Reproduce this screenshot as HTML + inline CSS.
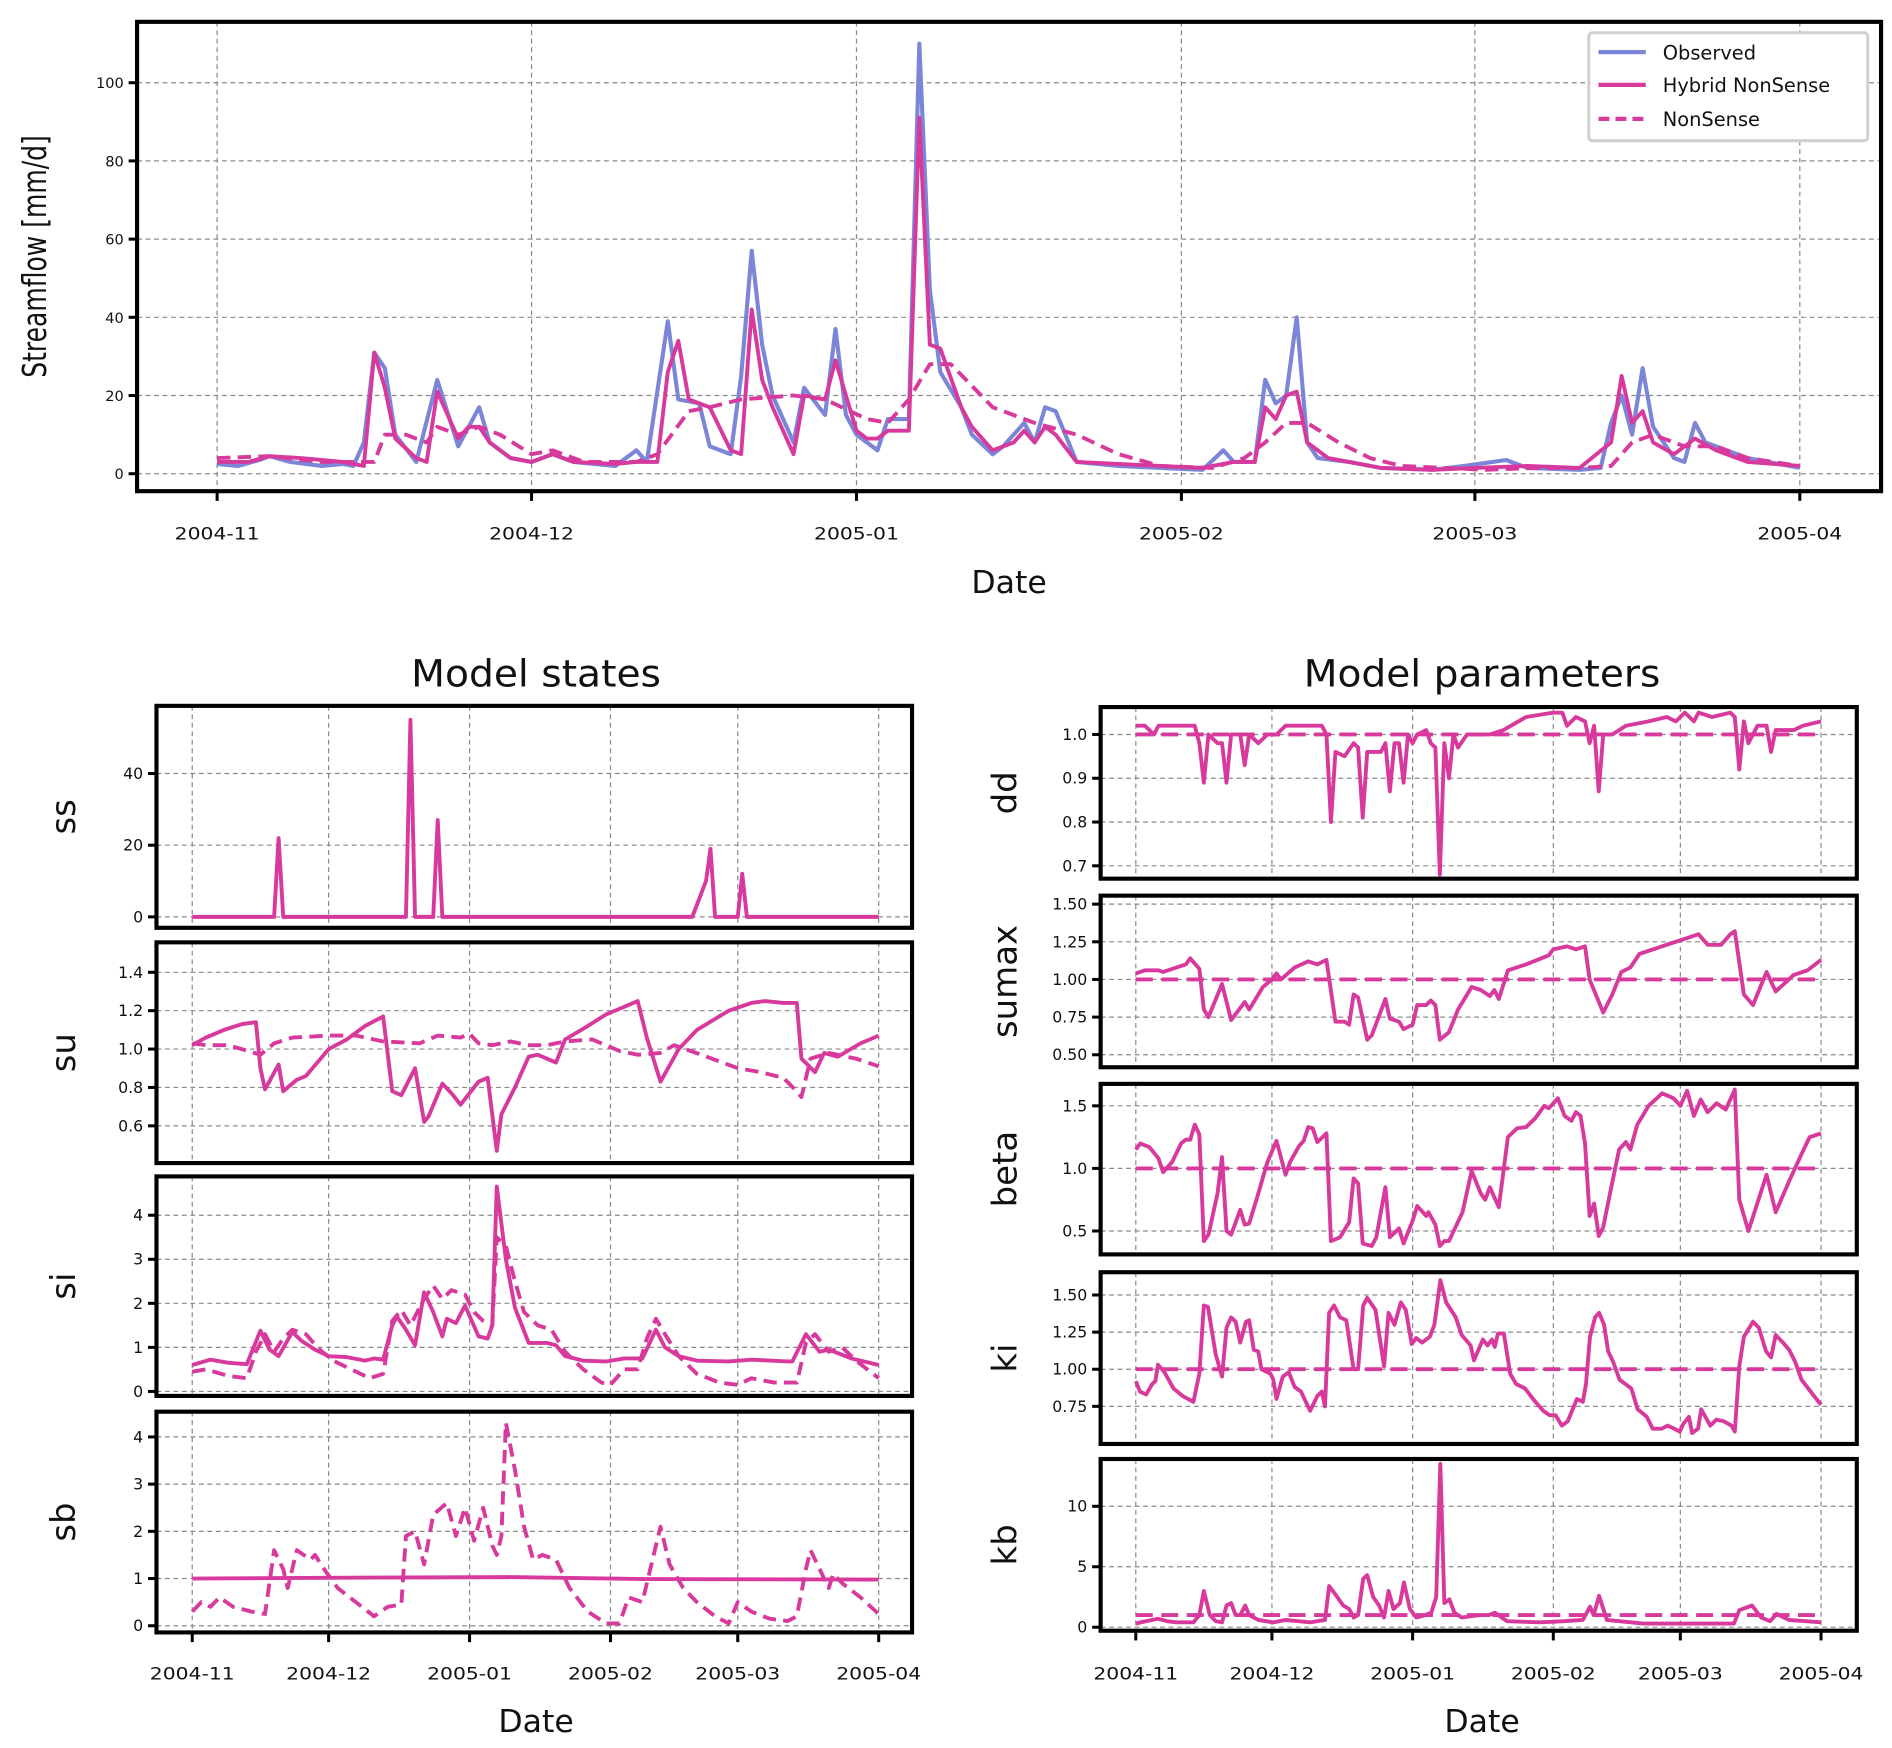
<!DOCTYPE html>
<html><head><meta charset="utf-8"><style>
html,body{margin:0;padding:0;background:#fff;}
svg{display:block;font-family:"DejaVu Sans","Liberation Sans",sans-serif;}
</style></head><body>
<svg id="fig" xmlns="http://www.w3.org/2000/svg" width="1892" height="1748" viewBox="0 0 1560 1441.3"></svg>
<script>
// ---------- DATA (day offset from 2004-11-01, value) ----------
const xTickLabels = ["2004-11","2004-12","2005-01","2005-02","2005-03","2005-04"];
const xTickDays = [0,30,61,92,120,151];
const obsSeries = [[0,2.5],[2,2],[4,3.5],[5,4.5],[7,3],[10,2],[12,2.5],[13,2],[14,8],[15,31],[16,27],[17,10],[19,3],[21,24],[23,7],[25,17],[26,8],[28,4],[30,3],[32,5],[34,3],[38,2],[40,6],[41,3],[43,39],[44,19],[46,18],[47,7],[49,5],[50,25],[51,57],[52,33],[53,20],[55,8],[56,22],[58,15],[59,37],[60,15],[61,10],[63,6],[64,14],[66,14],[67,110],[68,47],[69,26],[71,17],[72,10],[74,5],[75,7],[77,13],[78,8],[79,17],[80,16],[82,3],[86,2],[90,1.5],[94,1],[96,6],[97,3],[99,3],[100,24],[101,18],[102,20],[103,40],[104,8],[105,4],[108,3],[111,1.5],[116,1],[119,2],[123,3.5],[125,1.5],[130,1],[132,1.5],[133,13],[134,20],[135,10],[136,27],[137,12],[139,4],[140,3],[141,13],[142,8],[146,4],[151,1.5]];
const hybSeries = [[0,3],[3,3],[5,4.5],[8,4],[12,3],[14,2],[15,31],[16,22],[17,9],[19,4],[20,3],[21,21],[23,9],[24,12],[25,12],[26,8],[28,4],[30,3],[32,5],[34,3],[38,2.5],[40,3],[42,3],[43,26],[44,34],[45,19],[47,17],[49,6],[50,5],[51,42],[52,24],[53,17],[55,5],[56,20],[58,19],[59,29],[60,20],[61,11],[62,9],[63,9],[64,11],[66,11],[67,91],[68,33],[69,32],[71,17],[72,12],[74,6],[76,8],[77,11],[78,8],[79,12],[80,10],[82,3],[86,2.5],[90,2],[94,1.5],[97,3],[99,3],[100,17],[101,14],[102,20],[103,21],[104,8],[106,4],[108,3],[111,1.5],[116,1],[120,1.5],[125,2],[130,1.5],[133,8],[134,25],[135,13],[136,16],[137,8],[139,5],[141,9],[143,6],[146,3],[151,2]];
const nsSeries = [[0,4],[5,4.5],[10,3],[15,3],[16,10],[18,10],[20,8],[21,12],[23,10],[25,12],[27,10],[30,5],[32,6],[35,3],[40,3],[42,5],[45,16],[47,17],[50,19],[55,20],[58,19],[62,14],[64,13],[66,19],[68,28],[70,28],[74,17],[78,13],[82,10],[86,5],[90,2],[95,1.5],[98,4],[100,8],[102,13],[104,13],[107,8],[110,4],[113,2],[117,1.5],[121,1],[126,1.5],[130,1.5],[133,2],[135,8],[137,10],[140,7],[143,7],[146,4],[151,2]];

const ssHybrid = [[0,0],[18,0],[19,22],[20,0],[47,0],[48,55],[49,0],[53,0],[54,27],[55,0],[110,0],[113,10],[114,19],[115,0],[120,0],[121,12],[122,0],[151,0]];
const suHybrid = [[0,1.02],[3,1.06],[7,1.1],[11,1.13],[14,1.14],[15,0.9],[16,0.79],[19,0.92],[20,0.78],[23,0.84],[25,0.86],[30,1.0],[34,1.05],[38,1.12],[42,1.17],[44,0.78],[46,0.76],[49,0.9],[51,0.62],[52,0.65],[55,0.82],[57,0.77],[59,0.71],[63,0.83],[65,0.85],[67,0.47],[68,0.66],[71,0.8],[74,0.96],[76,0.97],[80,0.93],[82,1.05],[87,1.12],[91,1.18],[95,1.22],[98,1.25],[100,1.06],[103,0.83],[107,1.0],[111,1.1],[118,1.2],[123,1.24],[126,1.25],[130,1.24],[133,1.24],[134,0.95],[137,0.88],[139,0.98],[142,0.96],[147,1.03],[151,1.07]];
const suNS = [[0,1.03],[3,1.02],[8,1.02],[15,0.97],[18,1.03],[22,1.06],[30,1.07],[36,1.07],[42,1.04],[50,1.03],[54,1.07],[59,1.06],[61,1.08],[63,1.03],[66,1.02],[70,1.04],[74,1.02],[78,1.02],[82,1.04],[88,1.05],[94,0.99],[98,0.97],[103,0.98],[106,1.02],[112,0.97],[120,0.9],[125,0.88],[130,0.85],[133,0.78],[134,0.75],[136,0.95],[140,0.98],[146,0.95],[151,0.91]];
const siHybrid = [[0,0.6],[4,0.72],[8,0.65],[12,0.62],[15,1.38],[17,0.95],[19,0.8],[22,1.35],[24,1.15],[27,0.95],[30,0.8],[34,0.78],[38,0.7],[40,0.75],[42,0.72],[44,1.5],[45,1.7],[47,1.4],[49,1.05],[51,2.25],[53,1.8],[55,1.25],[56,1.65],[58,1.55],[60,1.95],[63,1.25],[65,1.2],[66,1.5],[67,4.65],[69,3.0],[71,1.9],[74,1.1],[78,1.1],[80,1.05],[82,0.8],[86,0.7],[91,0.68],[95,0.75],[99,0.75],[102,1.4],[104,1.0],[107,0.8],[111,0.7],[118,0.68],[123,0.72],[131,0.68],[132,0.68],[135,1.3],[138,0.9],[140,0.95],[145,0.75],[151,0.6]];
const siNS = [[0,0.45],[3,0.5],[8,0.35],[12,0.3],[14,0.9],[16,1.3],[18,0.9],[20,1.2],[22,1.4],[25,1.3],[28,0.95],[31,0.7],[35,0.5],[39,0.3],[42,0.4],[44,1.6],[46,1.85],[48,1.5],[51,2.1],[53,2.4],[55,2.1],[57,2.3],[60,2.2],[62,1.8],[64,1.6],[66,1.5],[67,3.5],[69,3.3],[71,2.5],[73,1.8],[76,1.5],[79,1.4],[82,0.9],[86,0.5],[90,0.2],[92,0.15],[95,0.5],[98,0.5],[100,1.2],[102,1.65],[104,1.3],[107,0.8],[111,0.4],[116,0.2],[120,0.15],[123,0.3],[128,0.2],[133,0.2],[135,1.1],[137,1.3],[140,0.9],[143,1.0],[146,0.7],[151,0.3]];
const sbHybrid = [[0,1.0],[40,1.02],[70,1.03],[100,0.99],[151,0.98]];
const sbNS = [[0,0.3],[2,0.5],[4,0.4],[6,0.6],[9,0.4],[13,0.3],[16,0.25],[18,1.6],[20,1.2],[21,0.8],[23,1.6],[26,1.4],[27,1.5],[29,1.2],[32,0.8],[36,0.5],[40,0.2],[43,0.4],[46,0.45],[47,1.9],[49,2.0],[51,1.3],[53,2.35],[56,2.6],[58,1.9],[60,2.5],[62,1.8],[64,2.5],[66,1.7],[67,1.5],[68,1.9],[69,4.3],[71,3.3],[73,2.1],[75,1.4],[77,1.5],[80,1.4],[83,0.8],[87,0.3],[91,0.05],[94,0.05],[96,0.6],[99,0.5],[101,1.3],[103,2.1],[105,1.3],[108,0.8],[111,0.5],[115,0.2],[118,0.05],[120,0.5],[123,0.3],[127,0.15],[131,0.1],[133,0.2],[135,1.2],[136,1.6],[138,1.2],[140,0.8],[141,1.1],[143,0.9],[147,0.6],[151,0.25]];

const ddHybrid = [[0,1.02],[2,1.02],[4,1.0],[5,1.02],[7,1.02],[12,1.02],[13,1.02],[14,0.98],[15,0.89],[16,1.0],[18,0.98],[19,0.98],[20,0.89],[21,1.0],[23,1.0],[24,0.93],[25,1.0],[27,0.98],[29,1.0],[31,1.0],[33,1.02],[38,1.02],[41,1.02],[42,1.0],[43,0.8],[44,0.96],[46,0.95],[48,0.98],[49,0.97],[50,0.81],[51,0.96],[54,0.96],[55,0.98],[56,0.87],[57,0.98],[58,0.98],[59,0.89],[60,1.0],[61,0.98],[62,1.0],[64,1.01],[65,0.98],[66,0.97],[67,0.68],[68,0.98],[69,0.9],[70,1.0],[71,0.97],[73,1.0],[76,1.0],[78,1.0],[81,1.01],[86,1.04],[92,1.05],[94,1.05],[95,1.02],[97,1.04],[99,1.03],[100,0.98],[101,1.02],[102,0.87],[103,1.0],[105,1.0],[108,1.02],[113,1.03],[117,1.04],[119,1.03],[121,1.05],[123,1.03],[124,1.05],[127,1.04],[131,1.05],[132,1.04],[133,0.92],[134,1.03],[135,0.98],[137,1.02],[139,1.02],[140,0.96],[141,1.01],[145,1.01],[147,1.02],[151,1.03]];
const ddNS = [[0,1.0],[151,1.0]];
const sumaxHybrid = [[0,1.04],[2,1.06],[5,1.06],[6,1.05],[9,1.08],[11,1.1],[12,1.14],[14,1.07],[15,0.8],[16,0.75],[19,0.97],[21,0.73],[24,0.85],[25,0.8],[28,0.95],[30,1.0],[31,1.04],[32,1.0],[35,1.08],[38,1.12],[40,1.1],[42,1.13],[44,0.72],[46,0.72],[47,0.7],[48,0.9],[49,0.88],[51,0.6],[52,0.63],[55,0.87],[56,0.74],[58,0.72],[59,0.67],[61,0.7],[62,0.83],[64,0.83],[65,0.86],[66,0.83],[67,0.6],[69,0.65],[71,0.8],[74,0.95],[76,0.93],[78,0.89],[79,0.93],[80,0.87],[82,1.06],[86,1.1],[91,1.16],[92,1.2],[95,1.22],[97,1.2],[99,1.22],[100,1.0],[103,0.78],[105,0.9],[107,1.05],[109,1.08],[111,1.17],[115,1.21],[117,1.23],[121,1.27],[124,1.3],[126,1.23],[129,1.23],[131,1.3],[132,1.32],[134,0.9],[136,0.83],[139,1.05],[141,0.92],[145,1.03],[148,1.06],[151,1.13]];
const sumaxNS = [[0,1.0],[151,1.0]];
const betaHybrid = [[0,1.15],[1,1.2],[3,1.17],[5,1.08],[6,0.97],[8,1.05],[10,1.2],[11,1.23],[12,1.23],[13,1.35],[14,1.27],[15,0.42],[16,0.47],[18,0.8],[19,1.09],[20,0.5],[21,0.47],[23,0.67],[24,0.55],[25,0.56],[27,0.8],[29,1.05],[31,1.22],[33,0.95],[34,1.05],[36,1.18],[37,1.22],[38,1.33],[39,1.32],[40,1.21],[42,1.28],[43,0.42],[45,0.45],[47,0.57],[48,0.92],[49,0.88],[50,0.4],[52,0.38],[53,0.45],[55,0.85],[56,0.45],[58,0.52],[59,0.4],[61,0.58],[62,0.7],[64,0.62],[64.5,0.65],[66,0.55],[67,0.38],[68,0.42],[69,0.42],[72,0.65],[74,0.98],[76,0.8],[77,0.75],[78,0.85],[80,0.69],[82,1.25],[84,1.32],[86,1.33],[88,1.4],[90,1.5],[91,1.48],[93,1.56],[94.5,1.42],[96,1.38],[97,1.45],[98,1.42],[99,1.2],[100,0.62],[101,0.72],[102,0.46],[103,0.53],[104.5,0.8],[106.5,1.15],[108,1.21],[109,1.15],[110.5,1.35],[113,1.5],[116,1.6],[118.5,1.56],[120,1.5],[121.5,1.62],[123,1.42],[124.5,1.55],[126,1.45],[128,1.52],[130,1.47],[132,1.63],[133,0.75],[135,0.5],[139,0.95],[141,0.65],[144,0.9],[146.5,1.1],[148.5,1.25],[151,1.28]];
const betaNS = [[0,1.0],[151,1.0]];
const kiHybrid = [[0,0.92],[0.9,0.85],[2.3,0.83],[3.6,0.9],[4.3,0.92],[4.9,1.03],[6.3,0.98],[8.3,0.87],[10.3,0.82],[12.7,0.78],[14,0.97],[15,1.43],[15.9,1.42],[17.6,1.1],[19,0.95],[20,1.28],[21,1.35],[22,1.32],[23,1.18],[24.3,1.32],[25,1.33],[26,1.13],[27,1.12],[27.7,1.0],[29.7,0.97],[30.3,0.93],[31,0.8],[32.4,0.95],[33.7,0.98],[35,0.88],[36.4,0.85],[38.4,0.72],[40,0.82],[41,0.85],[41.7,0.75],[42.6,1.38],[43.7,1.43],[45,1.35],[46.4,1.33],[47,1.2],[48,1.0],[49,1.0],[50.1,1.43],[51,1.48],[52.8,1.4],[54.7,1.02],[55.7,1.38],[57,1.3],[58.4,1.45],[59.5,1.4],[60.8,1.17],[61.8,1.21],[63.1,1.18],[64.8,1.22],[65.8,1.3],[67.1,1.6],[68.4,1.45],[70.5,1.35],[71.8,1.23],[73.8,1.16],[74.5,1.06],[76.5,1.2],[77.5,1.16],[78.5,1.2],[79.1,1.15],[79.8,1.24],[81.1,1.24],[82.5,0.97],[83.8,0.9],[85.8,0.87],[87.8,0.79],[89.8,0.72],[91.2,0.69],[92.5,0.69],[93.9,0.62],[95.2,0.65],[97.2,0.8],[98.5,0.78],[99.2,0.9],[100.1,1.22],[101.2,1.35],[102.1,1.38],[103.2,1.3],[104.1,1.12],[105.2,1.05],[106.6,0.93],[107.9,0.9],[109.2,0.87],[110.6,0.73],[112.6,0.68],[113.9,0.6],[115.9,0.6],[117.2,0.62],[118.6,0.6],[119.9,0.58],[120.6,0.63],[121.9,0.68],[122.6,0.57],[123.9,0.6],[124.6,0.73],[126.6,0.62],[127.9,0.66],[129.5,0.65],[131.3,0.62],[132,0.58],[133,1.02],[134,1.22],[136,1.32],[137.3,1.28],[138.9,1.12],[140,1.08],[141,1.23],[142.6,1.18],[144,1.13],[145.3,1.05],[146.7,0.93],[148.7,0.85],[151,0.76]];
const kiNS = [[0,1.0],[151,1.0]];
const kbHybrid = [[0,0.3],[2.3,0.5],[4.9,0.7],[6.9,0.5],[8.9,0.4],[12.7,0.4],[14,1.0],[15,3.0],[16.3,1.0],[17.6,0.5],[19,0.4],[20,1.8],[21,2.0],[22,1.0],[23,1.0],[24.1,1.8],[25,1.0],[27,0.6],[30.3,0.4],[33,0.6],[38.4,0.4],[41.7,0.6],[42.6,3.4],[44.4,2.5],[45.7,1.8],[47,1.5],[48,0.8],[49,1.0],[50.1,4.0],[51,4.3],[52.3,2.5],[53.6,1.8],[54.7,0.8],[55.7,3.0],[56.8,1.5],[58.2,2.0],[59.1,3.7],[60.4,1.5],[61.8,0.8],[63.8,1.0],[65.1,1.2],[66.2,2.5],[67.1,13.5],[68,2.0],[69.1,2.3],[70.2,1.2],[71.8,0.8],[75.8,1.0],[77.8,1.0],[79.1,1.2],[81.8,0.5],[89.1,0.4],[94.4,0.5],[98.5,0.6],[100.1,1.7],[100.9,1.0],[102.1,2.6],[103.8,0.6],[111.8,0.3],[125.1,0.3],[131.8,0.3],[133,1.4],[135.8,1.8],[137.8,0.8],[139.8,0.5],[141.2,1.1],[143.9,0.6],[151,0.4]];
const kbNS = [[0,1.0],[151,1.0]];

// ---------- RENDER ----------
const NS = "http://www.w3.org/2000/svg";
const svg = document.getElementById('fig');
const PINK = "#d8399c", BLUE = "#7c86d8", GRID = "#8a8a8a";
function mk(tag, attrs, parent){ const e=document.createElementNS(NS,tag); for(const k in attrs) e.setAttribute(k,attrs[k]); (parent||svg).appendChild(e); return e; }
function txt(s, attrs, parent){ const t=mk('text',attrs,parent); t.textContent=s; return t; }

function panel(p){
  const g = mk('g',{});
  
  
  const xm = d => p.xa + d*(p.xb-p.xa)/151;
  const ym = v => p.y0v + (v - p.v0)*(p.y1v - p.y0v)/(p.v1 - p.v0);
  xTickDays.forEach(d=>{
    const l = mk('line',{x1:xm(d),x2:xm(d),y1:p.top,y2:p.bot,stroke:GRID,'stroke-width':1,'stroke-dasharray':'4,3'},g);
    
    
  });
  p.yticks.forEach((v,i)=>{
    const y = ym(v);
    const l = mk('line',{x1:p.left,x2:p.right,y1:y,y2:y,stroke:GRID,'stroke-width':1,'stroke-dasharray':'4,3'},g);
    
    
    mk('line',{x1:p.left-7,x2:p.left,y1:y,y2:y,stroke:'#000','stroke-width':2.5},g);
    const t = txt(p.ylabels[i],{x:p.left-11,y:y+4.5,'text-anchor':'end','font-size':p.tfs||13,fill:'#111'},g);
    
    
  });
  const cp = mk('clipPath',{id:'cp-'+p.name},g);
  mk('rect',{x:p.left,y:p.top,width:p.right-p.left,height:p.bot-p.top},cp);
  p.series.forEach(s=>{
    const pts = s.data.map(([d,v])=>xm(d).toFixed(1)+','+ym(v).toFixed(1)).join(' ');
    const pl = mk('polyline',{points:pts,fill:'none',stroke:s.color,'stroke-width':s.w||3.2,'stroke-linejoin':'round','clip-path':'url(#cp-'+p.name+')'},g);
    if(s.dash) pl.setAttribute('stroke-dasharray', s.dash);
    
    
  });
  const fr = mk('rect',{x:p.left,y:p.top,width:p.right-p.left,height:p.bot-p.top,fill:'none',stroke:'#000','stroke-width':3.4},g);
  
  
  if(p.xlabels){
    xTickDays.forEach((d,i)=>{
      mk('line',{x1:xm(d),x2:xm(d),y1:p.bot,y2:p.bot+8,stroke:'#000','stroke-width':2.5},g);
      const t = txt(xTickLabels[i],{x:xm(d),y:p.xlabY,'text-anchor':'middle','font-size':14,fill:'#111',textLength:70,lengthAdjust:'spacingAndGlyphs'},g);
      
      
    });
  }
  if(p.ylab){
    const t = txt(p.ylab,{x:0,y:0,'text-anchor':'middle','font-size':p.ylfs||28,fill:'#111',transform:`translate(${p.ylx},${(p.top+p.bot)/2}) rotate(-90)`},g);
    if(p.yllen){ t.setAttribute('textLength',p.yllen); t.setAttribute('lengthAdjust','spacingAndGlyphs'); }
    
    
  }
}

panel({name:'streamflow',left:113,right:1551,top:18,bot:405,xa:179,xb:1484,v0:0,y0v:390.6,v1:100,y1v:68.2,
  yticks:[0,20,40,60,80,100],ylabels:["0","20","40","60","80","100"],tfs:12,xlabels:true,xlabY:445,
  ylab:"Streamflow [mm/d]",ylx:38,ylfs:27,yllen:200,
  series:[{name:'observed-line',data:obsSeries,color:BLUE,w:3.4},{name:'nonsense-line',data:nsSeries,color:PINK,dash:'11,6'},{name:'hybrid-nonsense-line',data:hybSeries,color:PINK}]});
const dt1 = txt("Date",{x:832,y:489,'text-anchor':'middle','font-size':26,fill:'#111'});



const lg = mk('g',{});


mk('rect',{x:1310,y:27,width:230,height:89,rx:3,fill:'#fff',stroke:'#d0d0d0','stroke-width':2.5},lg);
[["Observed",BLUE,null,43],["Hybrid NonSense",PINK,null,70],["NonSense",PINK,'9,5',98]].forEach(([lab,c,dash,y])=>{
  const l = mk('line',{x1:1318,x2:1357,y1:y,y2:y,stroke:c,'stroke-width':3.5},lg);
  if(dash) l.setAttribute('stroke-dasharray',dash);
  
  
  const t = txt(lab,{x:1371,y:y+6,'font-size':16,fill:'#111'},lg);
  
  
});

const t1 = txt("Model states",{x:442,y:566,'text-anchor':'middle','font-size':31,fill:'#111',textLength:206,lengthAdjust:'spacingAndGlyphs'});


const t2 = txt("Model parameters",{x:1222,y:566,'text-anchor':'middle','font-size':31,fill:'#111',textLength:294,lengthAdjust:'spacingAndGlyphs'});



const L = {left:129,right:752,xa:158.5,xb:724.5,ylx:62,tfs:13};
panel(Object.assign({},L,{name:'ss',top:582,bot:765,v0:0,y0v:756,v1:40,y1v:637.8,yticks:[0,20,40],ylabels:["0","20","40"],ylab:"ss",
  series:[{name:'ss-hybrid-line',data:ssHybrid,color:PINK}]}));
panel(Object.assign({},L,{name:'su',top:777,bot:959,v0:1,y0v:865,v1:0.6,y1v:928.3,yticks:[0.6,0.8,1.0,1.2,1.4],ylabels:["0.6","0.8","1.0","1.2","1.4"],ylab:"su",
  series:[{name:'su-nonsense-line',data:suNS,color:PINK,dash:'11,6'},{name:'su-hybrid-line',data:suHybrid,color:PINK}]}));
panel(Object.assign({},L,{name:'si',top:970,bot:1151,v0:0,y0v:1147.3,v1:4,y1v:1002,yticks:[0,1,2,3,4],ylabels:["0","1","2","3","4"],ylab:"si",
  series:[{name:'si-nonsense-line',data:siNS,color:PINK,dash:'11,6'},{name:'si-hybrid-line',data:siHybrid,color:PINK}]}));
panel(Object.assign({},L,{name:'sb',top:1164,bot:1346,v0:0,y0v:1340.5,v1:4,y1v:1184.8,yticks:[0,1,2,3,4],ylabels:["0","1","2","3","4"],ylab:"sb",
  xlabels:true,xlabY:1385,
  series:[{name:'sb-nonsense-line',data:sbNS,color:PINK,dash:'11,6'},{name:'sb-hybrid-line',data:sbHybrid,color:PINK}]}));

const R = {left:907.5,right:1531,xa:936.5,xb:1501.5,ylx:838,tfs:13};
panel(Object.assign({},R,{name:'dd',top:583,bot:724.5,v0:1,y0v:605.6,v1:0.7,y1v:713.9,yticks:[0.7,0.8,0.9,1.0],ylabels:["0.7","0.8","0.9","1.0"],ylab:"dd",
  series:[{name:'dd-nonsense-line',data:ddNS,color:PINK,dash:'14,7'},{name:'dd-hybrid-line',data:ddHybrid,color:PINK}]}));
panel(Object.assign({},R,{name:'sumax',top:738.5,bot:880,v0:1,y0v:807.6,v1:0.5,y1v:869.7,yticks:[0.5,0.75,1.0,1.25,1.5],ylabels:["0.50","0.75","1.00","1.25","1.50"],ylab:"sumax",
  series:[{name:'sumax-nonsense-line',data:sumaxNS,color:PINK,dash:'14,7'},{name:'sumax-hybrid-line',data:sumaxHybrid,color:PINK}]}));
panel(Object.assign({},R,{name:'beta',top:893.7,bot:1034.3,v0:1,y0v:963.4,v1:0.5,y1v:1015,yticks:[0.5,1.0,1.5],ylabels:["0.5","1.0","1.5"],ylab:"beta",
  series:[{name:'beta-nonsense-line',data:betaNS,color:PINK,dash:'14,7'},{name:'beta-hybrid-line',data:betaHybrid,color:PINK}]}));
panel(Object.assign({},R,{name:'ki',top:1049,bot:1190.6,v0:1,y0v:1129,v1:0.75,y1v:1159.6,yticks:[0.75,1.0,1.25,1.5],ylabels:["0.75","1.00","1.25","1.50"],ylab:"ki",
  series:[{name:'ki-nonsense-line',data:kiNS,color:PINK,dash:'14,7'},{name:'ki-hybrid-line',data:kiHybrid,color:PINK}]}));
panel(Object.assign({},R,{name:'kb',top:1203,bot:1344.6,v0:0,y0v:1341.7,v1:10,y1v:1242,yticks:[0,5,10],ylabels:["0","5","10"],ylab:"kb",
  xlabels:true,xlabY:1385,
  series:[{name:'kb-nonsense-line',data:kbNS,color:PINK,dash:'14,7'},{name:'kb-hybrid-line',data:kbHybrid,color:PINK}]}));

const d2 = txt("Date",{x:442,y:1428,'text-anchor':'middle','font-size':26,fill:'#111'});


const d3 = txt("Date",{x:1222,y:1428,'text-anchor':'middle','font-size':26,fill:'#111'});


</script>
</body></html>
